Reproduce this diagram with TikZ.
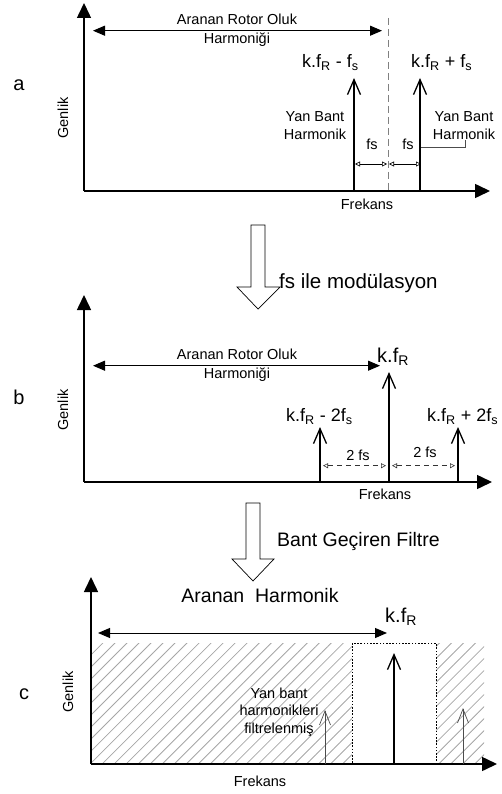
\documentclass[tikz,border=0pt]{standalone}
\usepackage{fontspec}
\setmainfont{Liberation Sans}
\usetikzlibrary{arrows.meta,patterns.meta}

\begin{document}
\begin{tikzpicture}[x=1pt, y=-1pt,
  axisarr/.style={line width=1.5pt, -{Triangle[width=14pt,length=15pt]}},
  spikearr/.style={line width=1.5pt, -{Straight Barb[width=13pt,length=15pt,line width=1.3pt]}},
  thinarr/.style={line width=0.7pt, gray!60!black, -{Straight Barb[width=11pt,length=14pt]}},
  spanarr/.style={line width=1pt, {Triangle[width=10pt,length=12pt]}-{Triangle[width=10pt,length=12pt]}},
  gaparr/.style={line width=0.6pt, {Triangle[open,width=5pt,length=5pt]}-{Triangle[open,width=5pt,length=5pt]}},
  hollowarr/.style={line width=0.7pt, fill=white},
  hatch/.style={pattern={Lines[angle=45,distance=8.5pt,line width=0.8pt]}, pattern color=gray!70},
  lbl/.style={font=\fontsize{14.5}{17.6}\selectfont, inner sep=0pt, align=center},
  klbl/.style={font=\fontsize{18}{21}\selectfont, inner sep=0pt},
  biglbl/.style={font=\fontsize{20}{24}\selectfont, inner sep=0pt},
  titlelbl/.style={font=\fontsize{20.5}{24}\selectfont, inner sep=0pt}
]
\useasboundingbox (0,0) rectangle (501,794);

% ---------------- panel a
\node[biglbl] (la) at (19,85) {a};
\node[lbl, rotate=90] (ga) at (63,118) {Genlik};
\coordinate (a0) at (84,191);
\coordinate (ay) at (84,3);
\coordinate (ax) at (490,191);
\coordinate (sept) at (388,18);
\coordinate (sepb) at (388,191);
\draw[gray, line width=0.8pt, dash pattern=on 7pt off 4pt] (sept) -- (sepb);
\draw[axisarr] (a0) -- (ay);
\draw[axisarr] (a0) -- (ax);
\node[lbl, anchor=base] (fa) at (367,210) {Frekans};

% searched harmonic span
\coordinate (as1) at (93,30.7);
\coordinate (as2) at (382,30.7);
\draw[spanarr] (as1) -- (as2);
\node[lbl, font=\fontsize{14.5}{18.3}\selectfont] (ta) at (237,30.4) {Aranan Rotor Oluk\\Harmoniği};

% side bands
\coordinate (a1b) at (354,191);
\coordinate (a1t) at (354,78);
\coordinate (a2b) at (420,191);
\coordinate (a2t) at (420,78);
\draw[line width=2.6pt] (sepb) -- (a2b);
\draw[spikearr] (a1b) -- (a1t);
\draw[spikearr] (a2b) -- (a2t);
\node[klbl, anchor=base west] (ka1) at (302,68) {k.f\textsubscript{R} - f\textsubscript{s}};
\node[klbl, anchor=base west] (ka2) at (411,68) {k.f\textsubscript{R} + f\textsubscript{s}};
\node[lbl] (yb1) at (315,125.3) {Yan Bant\\Harmonik};
\node[lbl] (yb2) at (464,125.3) {Yan Bant\\Harmonik};
\coordinate (l1) at (421,147);
\coordinate (l2) at (465,147);
\coordinate (l3) at (465,140);
\draw[gray!60!black, line width=0.6pt] (l1) -- (l2) -- (l3);

% fs gaps
\coordinate (g1) at (355,164);
\coordinate (g2) at (387,164);
\coordinate (g3) at (389,164);
\coordinate (g4) at (421,164);
\draw[gaparr] (g1) -- (g2);
\draw[gaparr] (g3) -- (g4);
\node[lbl, anchor=base] (fs1) at (372,149.3) {fs};
\node[lbl, anchor=base] (fs2) at (408,149.3) {fs};

% modulation step
\draw[hollowarr] (251,225) -- (265,225) -- (265,287) -- (280,287) -- (258,309)
  -- (237,287) -- (251,287) -- cycle;
\node[titlelbl, anchor=base west] (mod) at (279,288) {fs ile modülasyon};

% ---------------- panel b
\node[biglbl] (lb) at (19,397) {b};
\node[lbl, rotate=90] (gb) at (63,410) {Genlik};
\coordinate (b0) at (84,482);
\coordinate (by) at (84,295);
\coordinate (bx) at (492,482);
\draw[axisarr] (b0) -- (by);
\draw[axisarr] (b0) -- (bx);
\node[lbl, anchor=base] (fb) at (385,499.3) {Frekans};

\coordinate (bs1) at (93,365.7);
\coordinate (bs2) at (380,365.7);
\draw[spanarr] (bs1) -- (bs2);
\node[lbl, font=\fontsize{14.5}{19}\selectfont] (tb) at (237,365.7) {Aranan Rotor Oluk\\Harmoniği};

\coordinate (b1b) at (320,482);
\coordinate (b1t) at (320,427);
\coordinate (b2b) at (389,482);
\coordinate (b2t) at (389,372);
\coordinate (b3b) at (458,482);
\coordinate (b3t) at (458,427);
\draw[spikearr] (b1b) -- (b1t);
\draw[spikearr] (b2b) -- (b2t);
\draw[spikearr] (b3b) -- (b3t);
\node[biglbl, anchor=base west] (kb0) at (377,362) {k.f\textsubscript{R}};
\node[klbl, anchor=base west] (kb1) at (286,421.7) {k.f\textsubscript{R} - 2f\textsubscript{s}};
\node[klbl, anchor=base west] (kb2) at (427,421.7) {k.f\textsubscript{R} + 2f\textsubscript{s}};

\coordinate (h1) at (323,465.7);
\coordinate (h2) at (386,465.7);
\coordinate (h3) at (392,465.7);
\coordinate (h4) at (455,465.7);
\draw[gaparr, gray!40!black, dash pattern=on 5pt off 4pt] (h1) -- (h2);
\draw[gaparr, gray!40!black, dash pattern=on 5pt off 4pt] (h3) -- (h4);
\node[lbl, anchor=base] (tf1) at (358,460) {2 fs};
\node[lbl, anchor=base] (tf2) at (425,457.3) {2 fs};

% filter step
\draw[hollowarr] (246,503) -- (260,503) -- (260,559) -- (274,559) -- (253,581)
  -- (232,559) -- (246,559) -- cycle;
\node[titlelbl, font=\fontsize{19.5}{23}\selectfont, anchor=base west] (flt) at (277,546) {Bant Geçiren Filtre};

% ---------------- panel c
\node[biglbl] (lc) at (24,694) {c};
\node[lbl, rotate=90] (gc) at (68,692) {Genlik};
\fill[hatch] (91,643) rectangle (352,764);
\fill[hatch] (436,643) rectangle (484,764);
\draw[line width=1pt, dash pattern=on 1.6pt off 1.6pt] (352,643) rectangle (436,764);
\coordinate (c0) at (91,764);
\coordinate (cy) at (91,577);
\coordinate (cx) at (497,764);
\draw[axisarr] (c0) -- (cy);
\draw[axisarr] (c0) -- (cx);
\node[lbl, anchor=base] (fc) at (260,786) {Frekans};

\node[titlelbl, font=\fontsize{19.5}{23}\selectfont, anchor=base] (tc) at (260,602) {Aranan\ \ Harmonik};
\coordinate (cs1) at (98,633);
\coordinate (cs2) at (387,633);
\draw[spanarr] (cs1) -- (cs2);
\node[biglbl, anchor=base west] (kc0) at (385,622) {k.f\textsubscript{R}};

\coordinate (c1b) at (394,764);
\coordinate (c1t) at (394,653);
\coordinate (c2b) at (325,764);
\coordinate (c2t) at (325,710);
\coordinate (c3b) at (463,764);
\coordinate (c3t) at (463,708);
\draw[spikearr] (c1b) -- (c1t);
\draw[thinarr] (c2b) -- (c2t);
\draw[thinarr] (c3b) -- (c3t);
\node[lbl, font=\fontsize{14.5}{17.4}\selectfont] (yc) at (279,712) {Yan bant\\harmonikleri\\filtrelenmiş};

\end{tikzpicture}
\end{document}
